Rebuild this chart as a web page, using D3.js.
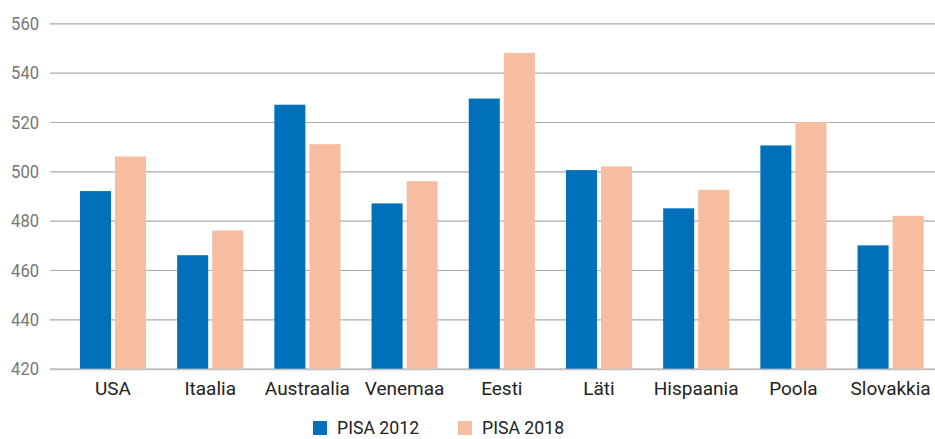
<!DOCTYPE html>
<html>
<head>
<meta charset="utf-8">
<script src="https://cdn.jsdelivr.net/npm/d3@7"></script>
<style>
  body { margin: 0; background: #fff; }
  text { font-family: Roboto, "Noto Sans", sans-serif; }
</style>
</head>
<body>
<div id="chart"></div>
<script>
// data
const countries = ["USA", "Itaalia", "Austraalia", "Venemaa", "Eesti", "Läti", "Hispaania", "Poola", "Slovakkia"];
const pisa2012 = [492, 466, 527, 487, 529.5, 500.5, 485, 510.5, 470];
const pisa2018 = [506, 476, 511, 496, 548, 502, 492.5, 520, 482];
const seriesNames = ["PISA 2012", "PISA 2018"];
const yTicks = [420, 440, 460, 480, 500, 520, 540, 560];

const colors = ["#0070BA", "#F7BDA1"];
const W = 935, H = 439;

var svg = d3.select("#chart")
  .append("svg")
  .attr("width", W)
  .attr("height", H);

// squeeze text a bit, the original font is a narrow one
function narrow(sel, k) {
  sel.each(function () {
    var len = this.getComputedTextLength();
    d3.select(this).attr("textLength", len * k).attr("lengthAdjust", "spacingAndGlyphs");
  });
}

// scales
var y = d3.scaleLinear().domain([420, 560]).range([368.7, 23.3]);

var x0 = d3.scaleBand()
  .domain(countries)
  .range([64.4, 939.2])
  .paddingInner(0.32)
  .paddingOuter(0.16);

var x1 = d3.scaleBand()
  .domain(seriesNames)
  .range([0, x0.bandwidth()])
  .paddingInner(0.115);

// gridlines + y labels
var yAxis = svg.append("g")
  .attr("transform", "translate(50,0)")
  .call(d3.axisLeft(y).tickValues(yTicks).tickSize(-(W - 50)).tickPadding(11));
yAxis.select(".domain").remove();
yAxis.selectAll(".tick line")
  .attr("stroke", (d) => d == 420 ? "#bfbfbf" : "#acacac")
  .attr("stroke-width", (d) => d == 420 ? 2 : 1.2);
yAxis.selectAll(".tick text")
  .attr("fill", "#777")
  .style("font-size", "19px")
  .style("font-family", "Roboto, sans-serif")
  .call(narrow, 0.87);

// bars
var rows = countries.map((c, i) => ({ country: c, values: [pisa2012[i], pisa2018[i]] }));

var groups = svg.selectAll("g.country")
  .data(rows)
  .enter()
  .append("g")
  .attr("class", "country")
  .attr("transform", (d) => "translate(" + x0(d.country) + ",0)");

groups.selectAll("rect")
  .data((d) => d.values.map((v, k) => ({ key: seriesNames[k], value: v, k: k })))
  .enter()
  .append("rect")
  .attr("x", (d) => x1(d.key))
  .attr("y", (d) => y(d.value))
  .attr("width", x1.bandwidth())
  .attr("height", (d) => y(420) - y(d.value))
  .style("fill", (d) => colors[d.k]);

// category labels
svg.append("g")
  .selectAll("text")
  .data(countries)
  .enter()
  .append("text")
  .attr("x", (d) => x0(d) + x0.bandwidth() / 2)
  .attr("y", 395)
  .attr("text-anchor", "middle")
  .style("font-size", "19px")
  .style("fill", "#222")
  .text((d) => d);

// legend
var legendX = [313, 458];
var legend = svg.append("g")
  .selectAll("g")
  .data(seriesNames)
  .enter()
  .append("g")
  .attr("transform", (d, i) => "translate(" + legendX[i] + ",421)");
legend.append("rect")
  .attr("width", 14)
  .attr("height", 14)
  .style("fill", (d, i) => colors[i]);
legend.append("text")
  .attr("x", 24)
  .attr("y", 13)
  .style("font-size", "19px")
  .style("fill", "#222")
  .text((d) => d)
  .call(narrow, 0.93);
</script>
</body>
</html>
